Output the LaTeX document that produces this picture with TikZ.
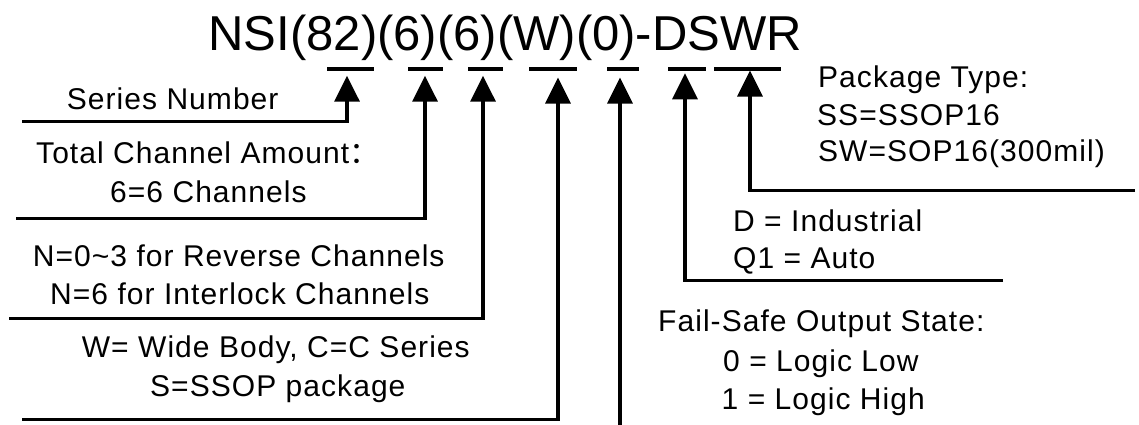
\documentclass[tikz,border=0pt]{standalone}
\usepackage{fontspec}
\setmainfont{Liberation Sans}
\newfontfamily\labfont[LetterSpace=3.5]{Liberation Sans}
\newfontfamily\cjkfont{Noto Sans CJK SC}
\usetikzlibrary{arrows.meta}
\begin{document}
\begin{tikzpicture}[x=1pt,y=-1pt,
  lbl/.style={anchor=base west, inner sep=0pt, font=\labfont\fontsize{30}{36}\selectfont},
  conn/.style={line width=3.5pt, line join=miter, -{Triangle[width=25pt,length=26pt]}},
  bar/.style={line width=4pt}]
\useasboundingbox (0,0) rectangle (1139,424);
% title
\node[anchor=base west, inner sep=0pt, font=\fontsize{49}{59}\selectfont] (title) at (208.4,50) {NSI(82)(6)(6)(W)(0)-DSWR};
% bars
\coordinate (b1l) at (327,69); \coordinate (b1r) at (374,69);
\coordinate (b2l) at (408,69); \coordinate (b2r) at (443,69);
\coordinate (b3l) at (468,69); \coordinate (b3r) at (503,69);
\coordinate (b4l) at (529,69); \coordinate (b4r) at (577,69);
\coordinate (b5l) at (607,69); \coordinate (b5r) at (639,69);
\coordinate (b6l) at (668,69); \coordinate (b6r) at (706,69);
\coordinate (b7l) at (714,69); \coordinate (b7r) at (781,69);
\foreach \i in {1,...,7} {\draw[bar] (b\i l) -- (b\i r);}
% connectors
\coordinate (s1) at (22,121.5);  \coordinate (k1) at (347,121.5); \coordinate (t1) at (347,75.7);
\coordinate (s2) at (16,218.3);  \coordinate (k2) at (425,218.3); \coordinate (t2) at (425,75.7);
\coordinate (s3) at (9,318.5);   \coordinate (k3) at (483,318.5); \coordinate (t3) at (483,75.7);
\coordinate (s4) at (22,419.3);  \coordinate (k4) at (558,419.3); \coordinate (t4) at (558,77.5);
\coordinate (s5) at (620,426);   \coordinate (t5) at (620,77.5);
\coordinate (s6) at (1003,280.5); \coordinate (k6) at (685,280.5); \coordinate (t6) at (685,73.3);
\coordinate (s7) at (1135,190.5); \coordinate (k7) at (750,190.5); \coordinate (t7) at (750,70.5);
\draw[conn] (s1) -- (k1) -- (t1);
\draw[conn] (s2) -- (k2) -- (t2);
\draw[conn] (s3) -- (k3) -- (t3);
\draw[conn] (s4) -- (k4) -- (t4);
\draw[conn] (s5) -- (t5);
\draw[conn] (s6) -- (k6) -- (t6);
\draw[conn] (s7) -- (k7) -- (t7);
% left labels
\node[lbl] (l1) at (66.7,109.3) {Series Number};
\node[lbl] (l2a) at (36,163.3) {Total Channel Amount{\cjkfont ：}};
\node[lbl] (l2b) at (110,202.7) {6=6 Channels};
\node[lbl] (l3a) at (32.7,266) {N=0\textasciitilde 3 for Reverse Channels};
\node[lbl] (l3b) at (50,304) {N=6 for Interlock Channels};
\node[lbl] (l4a) at (81.7,357) {W= Wide Body, C=C Series};
\node[lbl] (l4b) at (150,396) {S=SSOP package};
% right labels
\node[lbl] (r1a) at (818,87) {Package Type:};
\node[lbl] (r1b) at (817,125) {SS=SSOP16};
\node[lbl] (r1c) at (818,161.7) {SW=SOP16(300mil)};
\node[lbl] (r2a) at (733,231) {D = Industrial};
\node[lbl] (r2b) at (733,268) {Q1 = Auto};
\node[lbl] (r3a) at (658,331.7) {Fail-Safe Output State:};
\node[lbl] (r3b) at (723,371) {0 = Logic Low};
\node[lbl] (r3c) at (721.5,409) {1 = Logic High};
\end{tikzpicture}
\end{document}
